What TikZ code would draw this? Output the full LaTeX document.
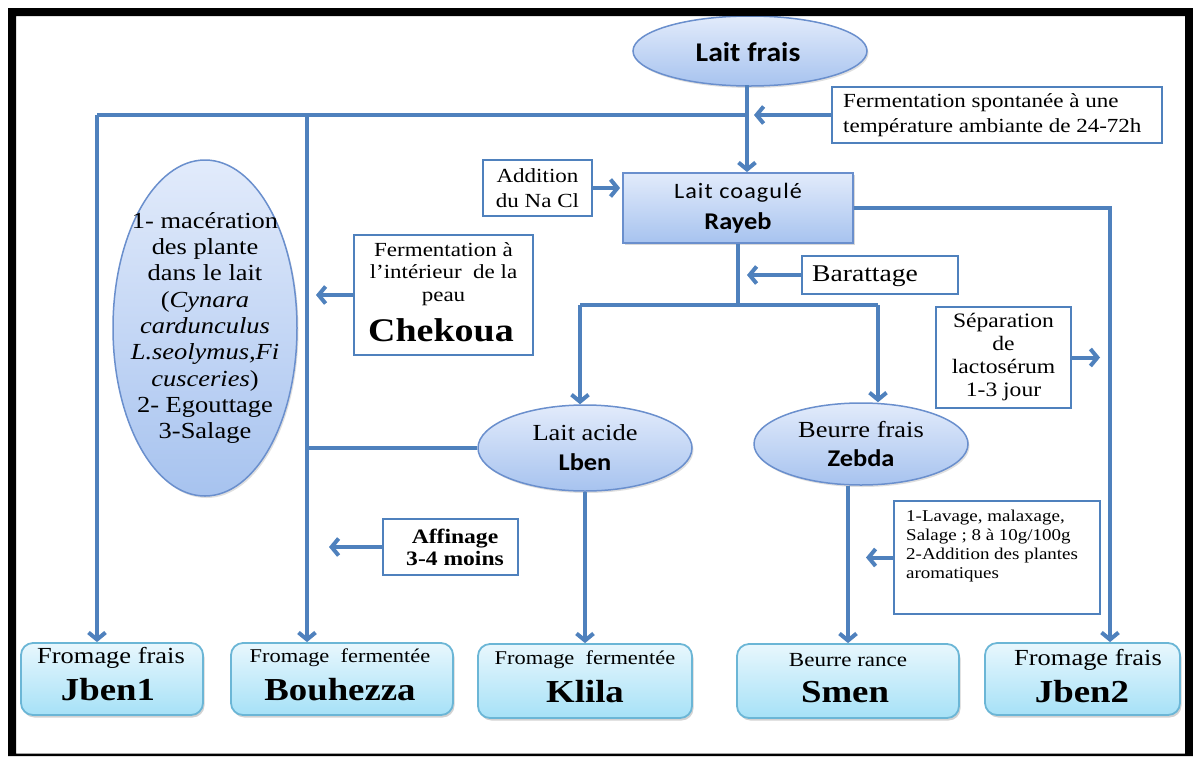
\documentclass[tikz,border=0pt]{standalone}
\usepackage{fontspec}
\setmainfont[FakeStretch=1.15]{Liberation Serif}
\newfontfamily\calib[FakeStretch=1.1]{Carlito}
\usetikzlibrary{shapes.geometric,arrows.meta,shadows}

\definecolor{flow}{HTML}{4F81BD}
\definecolor{ellline}{HTML}{6A8FCD}
\definecolor{elltop}{HTML}{E2EBFB}
\definecolor{ellbot}{HTML}{A7C3EF}
\definecolor{prodline}{HTML}{6BB6D6}
\definecolor{prodtop}{HTML}{E8F7FD}
\definecolor{prodbot}{HTML}{A6E1F7}

\newcommand{\fs}[2]{\fontsize{#1}{#2}\selectfont}

\tikzset{
  flowline/.style={draw=flow, line width=4pt},
  flowarrow/.style={flowline, -{Straight Barb[length=7pt,width=17pt]}},
  note/.style={rectangle, draw=flow, line width=1.8pt, fill=white, inner sep=0pt},
  bubble/.style={ellipse, draw=ellline, line width=1.5pt, top color=elltop,
    bottom color=ellbot, inner sep=0pt,
    drop shadow={shadow xshift=1.5pt, shadow yshift=-2pt, opacity=.25, fill=gray}},
  stage/.style={rectangle, draw=ellline, line width=1.8pt, top color=elltop,
    bottom color=ellbot, inner sep=0pt,
    drop shadow={shadow xshift=1.5pt, shadow yshift=-2pt, opacity=.3, fill=gray}},
  product/.style={rectangle, rounded corners=12pt, draw=prodline, line width=1.8pt,
    top color=prodtop, bottom color=prodbot, inner sep=0pt,
    minimum height=72pt,
    drop shadow={shadow xshift=1.5pt, shadow yshift=-2.5pt, opacity=.35, fill=gray}},
  txt/.style={inner sep=0pt, align=center},
  subtitle/.style={txt, font=\fs{23}{26}},
  title/.style={txt, font=\bfseries\fs{32}{36}},
}

\begin{document}
\begin{tikzpicture}[x=1pt, y=-1pt]
\useasboundingbox (0,0) rectangle (1193,756);
\fill[white] (0,0) rectangle (1193,756);

% ---------- stages ----------
\node[bubble, minimum width=234pt, minimum height=70pt] (frais) at (750,51) {};
\node[txt, font=\calib\bfseries\fs{27}{30}] (fraist) at (748,52) {Lait frais};

\node[stage, minimum width=230pt, minimum height=70pt] (rayeb) at (738,208) {};
\node[txt, font=\calib\addfontfeature{LetterSpace=5}\fs{22}{26}] (rayeba) at (738,193) {Lait coagulé};
\node[txt, font=\calib\bfseries\fs{24}{28}] (rayebb) at (738,223) {Rayeb};

\node[bubble, minimum width=184pt, minimum height=336pt] (macer) at (205,328) {};
\node[txt, font=\fs{23}{26.3}] (macert) at (205,328)
  {1- macération\\des plante\\dans le lait\\(\textit{Cynara}\\\textit{cardunculus}\\
   \textit{L.seolymus,Fi}\\\textit{cusceries})\\2- Egouttage\\3-Salage};

\node[bubble, minimum width=214pt, minimum height=86pt] (acide) at (585,448) {};
\node[txt, font=\fs{23}{26}] (acidea) at (585,433) {Lait acide};
\node[txt, font=\calib\bfseries\fs{24}{28}] (acideb) at (585,462) {Lben};

\node[bubble, minimum width=214pt, minimum height=82pt] (beurre) at (861,444) {};
\node[txt, font=\fs{23}{26}] (beurrea) at (861,430) {Beurre frais};
\node[txt, font=\calib\bfseries\fs{24}{28}] (beurreb) at (861,458) {Zebda};

% ---------- process notes ----------
\node[note, minimum width=330pt, minimum height=56pt] (spont) at (997,115) {};
\node[txt, align=left, anchor=west, font=\fs{20}{25}] (spontt) at (843,115)
  {Fermentation spontanée à une\\température ambiante de 24-72h};

\node[note, minimum width=109pt, minimum height=56pt] (nacl) at (537.5,188) {};
\node[txt, font=\fs{20}{25}] (naclt) at (537.5,188) {Addition\\du Na Cl};

\node[note, minimum width=156pt, minimum height=38pt] (barat) at (880,275) {};
\node[txt, anchor=west, font=\fs{24}{28}] (baratt) at (812,276) {Barattage};

\node[note, minimum width=179pt, minimum height=120pt] (chek) at (443.5,295) {};
\node[txt, font=\fs{20}{22.5}] (chekt) at (443.5,274) {Fermentation à\\l'intérieur~~de la\\peau};
\node[txt, font=\bfseries\fs{33}{36}] (chekn) at (441,330) {Chekoua};

\node[note, minimum width=135pt, minimum height=101pt] (sep) at (1003.5,357.5) {};
\node[txt, font=\fs{20.5}{22.7}] (sept) at (1003.5,357) {Séparation\\de\\lactosérum\\1-3 jour};

\node[note, minimum width=135pt, minimum height=56pt] (aff) at (450.5,547) {};
\node[txt, font=\bfseries\fs{20.5}{22}] (afft) at (455,547) {Affinage\\3-4 moins};

\node[note, minimum width=206pt, minimum height=113pt] (lav) at (997,557.5) {};
\node[txt, align=left, anchor=west, font=\fs{16.5}{19.3}] (lavt) at (906,546)
  {1-Lavage, malaxage,\\Salage ; 8 à 10g/100g\\2-Addition des plantes\\aromatiques};

% ---------- products ----------
\node[product, minimum width=182pt] (jben1) at (112,679) {};
\node[subtitle] (jben1a) at (111,658) {Fromage frais};
\node[title] (jben1b) at (108,690) {Jben1};

\node[product, minimum width=222pt] (bouh) at (342,679) {};
\node[txt, font=\fs{19.5}{22}] (boueha) at (340,658) {Fromage~~fermentée};
\node[title] (bouhb) at (340,690) {Bouhezza};

\node[product, minimum width=214pt, minimum height=74pt] (klila) at (585,681) {};
\node[txt, font=\fs{19.5}{22}] (klilaa) at (585,660) {Fromage~~fermentée};
\node[title] (klilab) at (585,692) {Klila};

\node[product, minimum width=222pt, minimum height=74pt] (smen) at (848,681) {};
\node[txt, font=\fs{20}{22}] (smena) at (848,660) {Beurre rance};
\node[title] (smenb) at (845,692) {Smen};

\node[product, minimum width=195pt] (jben2) at (1082.5,679) {};
\node[subtitle] (jben2a) at (1088,660) {Fromage frais};
\node[title] (jben2b) at (1082,692) {Jben2};

% ---------- connectors ----------
\coordinate (trunk) at (747,85);
\coordinate (jct) at (trunk |- spont.west);
\coordinate (tl) at (97,115);
\coordinate (tm) at (307,115);
\coordinate (rc) at (1110,208);
\coordinate (split) at (738,305);
\coordinate (sl) at (580,305);
\coordinate (sr) at (878,305);

\draw[flowarrow] (trunk) -- (trunk |- rayeb.north);
\draw[flowline] (jct) -- (tl);
\draw[flowarrow] (tl) -- (tl |- jben1.north);
\draw[flowarrow] (tm) -- (tm |- bouh.north);
\draw[flowarrow, shorten >=7pt] (spont.west) -- (jct);

\draw[flowarrow, shorten >=2pt] (nacl.east) -- (rayeb.west |- nacl.east);
\draw[flowarrow] (rayeb.east |- rc) -- (rc) -- (rc |- jben2.north);

\draw[flowline] (rayeb.south) -- (split);
\draw[flowline] (sl) -- (sr);
\draw[flowarrow] (sl) -- (sl |- acide.north);
\draw[flowarrow] (sr) -- (sr |- beurre.north);
\draw[flowarrow, shorten >=9pt] (barat.west) -- (split |- barat.west);

\draw[flowarrow, shorten >=9pt] (chek.west) -- (tm |- chek.west);
\draw[flowline] (acide.west) -- (tm |- acide.west);
\draw[flowarrow] (acide.south) -- (acide.south |- klila.north);
\draw[flowarrow, shorten >=22pt] (aff.west) -- (tm |- aff.west);

\draw[flowarrow, shorten >=10pt] (sep.east) -- (rc |- sep.east);
\draw[flowarrow] (smen.north |- beurre.south) -- (smen.north);
\draw[flowarrow, shorten >=18pt] (lav.west) -- (smen.north |- lav.west);

% ---------- page frame ----------
\fill[black, even odd rule] (8,8) rectangle (1193,756) (16,16) rectangle (1185,753.5);
\end{tikzpicture}
\end{document}
